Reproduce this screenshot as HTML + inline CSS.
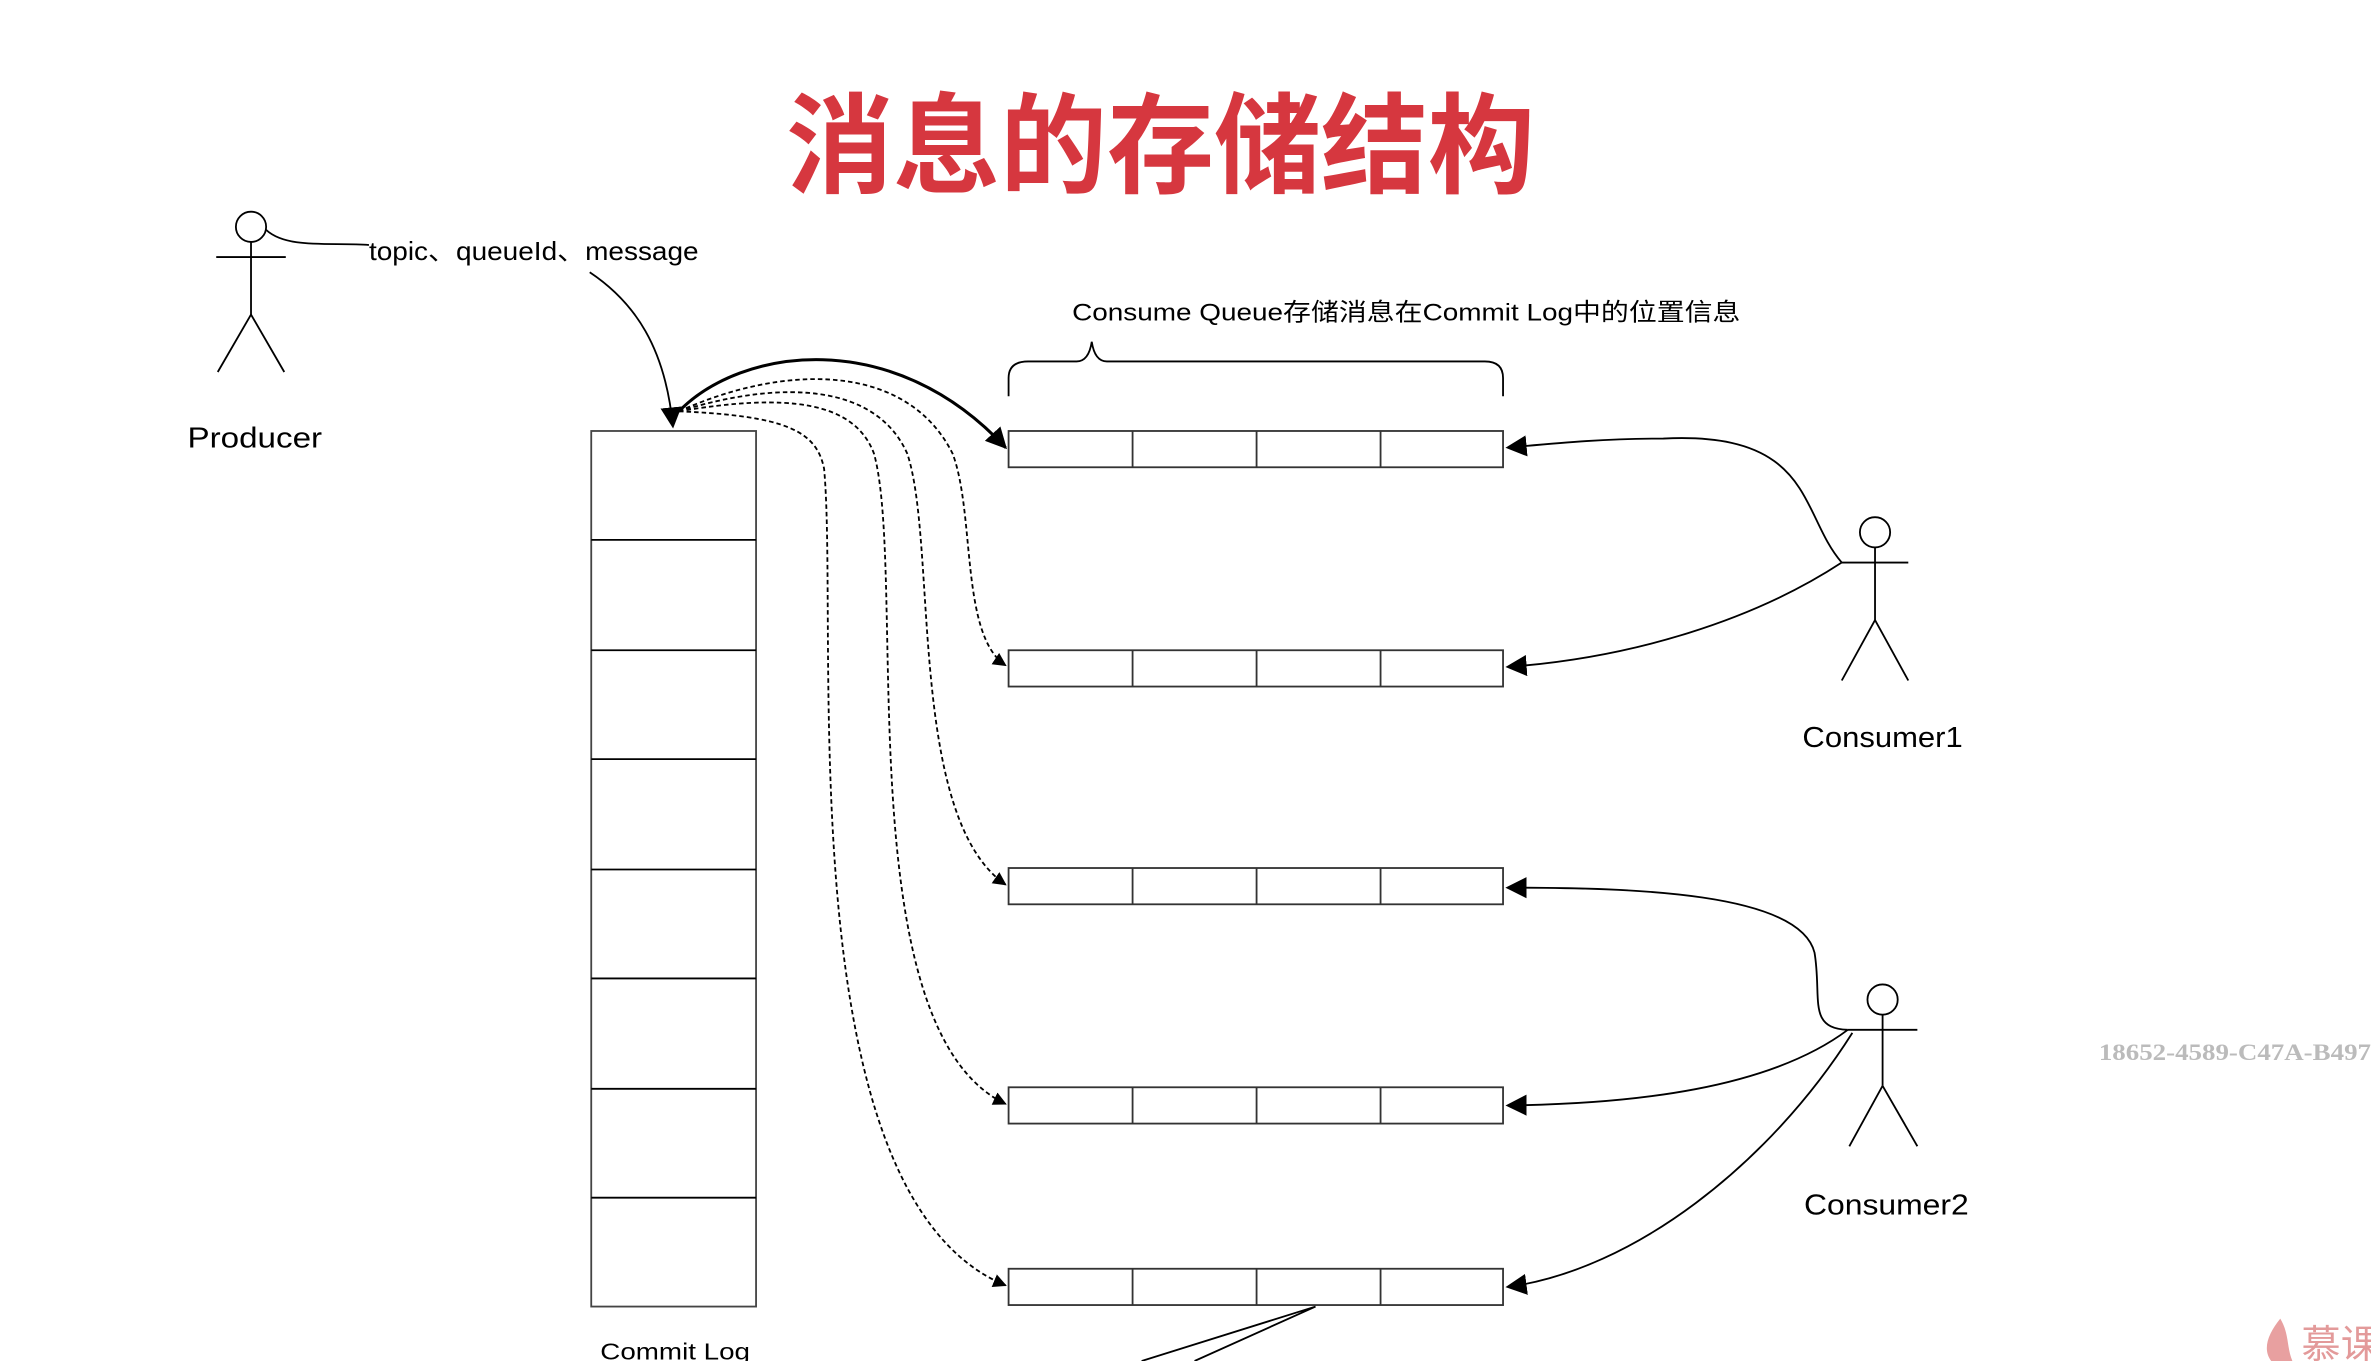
<!DOCTYPE html>
<html><head><meta charset="utf-8"><style>
html,body{margin:0;padding:0;background:#fff;}
svg{display:block;}
text{font-family:"Liberation Sans","Noto Sans CJK SC",sans-serif;}
</style></head><body>
<svg width="2371" height="1361" viewBox="0 0 1568 900" preserveAspectRatio="none" xmlns="http://www.w3.org/2000/svg">
<defs>
<marker id="a" viewBox="0 0 10 10" refX="9" refY="5" markerWidth="9" markerHeight="9" orient="auto" markerUnits="userSpaceOnUse"><path d="M0,0 L10,5 L0,10 z" fill="#000"/></marker>
<marker id="b" viewBox="0 0 10 10" refX="9" refY="5" markerWidth="14" markerHeight="14" orient="auto" markerUnits="userSpaceOnUse"><path d="M0,0 L10,5 L0,10 z" fill="#000"/></marker>
</defs>
<rect width="1568" height="900" fill="#fff"/>
<text x="520" y="122" textLength="495" lengthAdjust="spacingAndGlyphs" font-size="72" font-weight="bold" fill="#d6373f" style="font-family:'Noto Sans CJK SC',sans-serif">消息的存储结构</text>

<g stroke="#000" stroke-width="1.2" fill="none">
<circle cx="166" cy="150" r="10"/>
<line x1="166" y1="160" x2="166" y2="208"/>
<line x1="143" y1="170" x2="189" y2="170"/>
<line x1="166" y1="208" x2="144" y2="246"/>
<line x1="166" y1="208" x2="188" y2="246"/>
<path d="M176,152 C190,165 220,160 244,162"/>
<path d="M390,180 C420,200 440,230 445,282" marker-end="url(#b)"/>
<rect x="391" y="285" width="109" height="579" stroke="#444"/>
<line x1="391" y1="357" x2="500" y2="357"/><line x1="391" y1="430" x2="500" y2="430"/>
<line x1="391" y1="502" x2="500" y2="502"/><line x1="391" y1="575" x2="500" y2="575"/>
<line x1="391" y1="647" x2="500" y2="647"/><line x1="391" y1="720" x2="500" y2="720"/>
<line x1="391" y1="792" x2="500" y2="792"/>
<g stroke="#333">
<rect x="667" y="285" width="327" height="24"/><rect x="667" y="430" width="327" height="24"/>
<rect x="667" y="574" width="327" height="24"/><rect x="667" y="719" width="327" height="24"/>
<rect x="667" y="839" width="327" height="24"/>
<path d="M749,285v24M831,285v24M913,285v24M749,430v24M831,430v24M913,430v24M749,574v24M831,574v24M913,574v24M749,719v24M831,719v24M913,719v24M749,839v24M831,839v24M913,839v24"/>
</g>
<path d="M667,262 V250 Q667,239 680,239 H712 Q720,239 722,226 Q724,239 732,239 H982 Q994,239 994,250 V262"/>
<path d="M449,272 C490,230 590,215 665,296" stroke-width="2" marker-end="url(#b)"/>
<g stroke-dasharray="3,2">
<path d="M449,272 C520,240 600,240 630,300 C645,340 635,420 665,440" marker-end="url(#a)"/>
<path d="M449,272 C520,250 580,255 600,300 C620,360 600,540 665,585" marker-end="url(#a)"/>
<path d="M449,272 C520,260 565,265 578,300 C600,380 560,680 665,730" marker-end="url(#a)"/>
<path d="M449,272 C520,275 540,285 545,310 C555,420 520,790 665,850" marker-end="url(#a)"/>
</g>
<circle cx="1240" cy="352" r="10"/>
<line x1="1240" y1="362" x2="1240" y2="410"/>
<line x1="1218" y1="372" x2="1262" y2="372"/>
<line x1="1240" y1="410" x2="1218" y2="450"/>
<line x1="1240" y1="410" x2="1262" y2="450"/>
<path d="M1218,372 C1190,340 1200,285 1100,290 C1060,290 1030,293 997,296" marker-end="url(#b)"/>
<path d="M1218,372 C1160,410 1080,435 997,441" marker-end="url(#b)"/>
<circle cx="1245" cy="661" r="10"/>
<line x1="1245" y1="671" x2="1245" y2="718"/>
<line x1="1222" y1="681" x2="1268" y2="681"/>
<line x1="1245" y1="718" x2="1223" y2="758"/>
<line x1="1245" y1="718" x2="1268" y2="758"/>
<path d="M1222,681 C1195,680 1205,660 1200,630 C1190,590 1080,587 997,587" marker-end="url(#b)"/>
<path d="M1222,681 C1170,720 1080,730 997,731" marker-end="url(#b)"/>
<path d="M1225,683 C1170,770 1080,840 997,851" marker-end="url(#b)"/>
<path d="M870,864 L755,900 M870,864 L790,900"/>
</g>

<text x="244" y="172" font-size="17" textLength="218" lengthAdjust="spacingAndGlyphs">topic、queueId、message</text>
<text x="124" y="296" font-size="19" textLength="89" lengthAdjust="spacingAndGlyphs">Producer</text>
<text x="709" y="212" font-size="16" textLength="442" lengthAdjust="spacingAndGlyphs">Consume Queue存储消息在Commit Log中的位置信息</text>
<text x="1192" y="494" font-size="19" textLength="106" lengthAdjust="spacingAndGlyphs">Consumer1</text>
<text x="1193" y="803" font-size="19" textLength="109" lengthAdjust="spacingAndGlyphs">Consumer2</text>
<text x="397" y="899" font-size="15" textLength="99" lengthAdjust="spacingAndGlyphs">Commit Log</text>
<text x="1388" y="701" font-size="15" fill="#bbb" textLength="180" lengthAdjust="spacingAndGlyphs" style="font-family:'Liberation Serif',serif;font-weight:bold">18652-4589-C47A-B497</text>
<path d="M1508,872 C1500,882 1496,892 1502,900 L1516,900 C1512,890 1514,882 1508,872z" fill="#e8a0a0"/>
<text x="1522" y="898" font-size="26" fill="#e39a9a" style="font-family:'Noto Sans CJK SC',sans-serif">慕课</text>
</svg>
</body></html>
